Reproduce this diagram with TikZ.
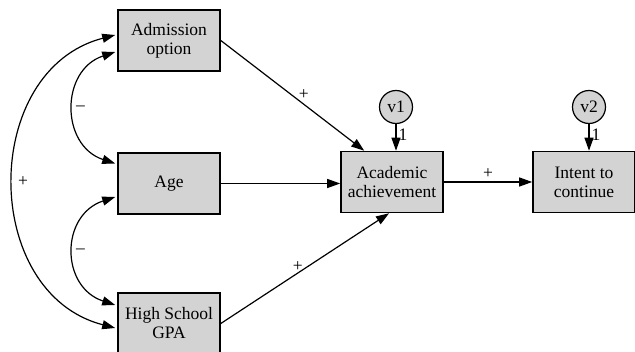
\documentclass[tikz,border=0pt]{standalone}
\usepackage{fontspec}
\setmainfont{Liberation Serif}
\usetikzlibrary{arrows.meta,calc}
\definecolor{boxgray}{RGB}{211,211,211}
\begin{document}
\begin{tikzpicture}[x=1pt,y=-1pt,
  font=\fontsize{17.5}{19}\selectfont,
  var/.style={draw=black,fill=boxgray,line width=1.6pt,minimum width=102pt,minimum height=61pt,inner sep=0pt,align=center},
  err/.style={draw=black,fill=boxgray,line width=1.2pt,circle,minimum size=33pt,inner sep=0pt},
  arr/.style={line width=1.2pt,-{Triangle[length=13pt,width=9pt]}},
  darr/.style={line width=1.2pt,{Triangle[length=13pt,width=9pt]}-{Triangle[length=13pt,width=9pt]}},
  lab/.style={inner sep=1.5pt}]
\useasboundingbox (0,0) rectangle (635,352);
\node[var] (adm) at (169,40.5) {Admission\\option};
\node[var] (age) at (169,183.5) {Age};
\node[var] (gpa) at (169,323.5) {High School\\GPA};
\node[var] (aca) at (392,182) {Academic\\achievement};
\node[var] (int) at (584,182) {Intent to\\continue};
\node[err] (v1) at (396,107) {v1};
\node[err] (v2) at (589,107) {v2};
% paths to academic achievement
\draw[arr] (adm.east) -- node[lab,pos=0.55,above right,xshift=-3pt] {+} ($(aca.north west)+(24,0)$);
\draw[arr] (age.east) -- (aca.west |- age.east);
\draw[arr] (gpa.east) -- node[lab,pos=0.5,above left,yshift=-5pt] {+} ($(aca.south)+(-3,0)$);
\draw[arr] (aca.east) -- node[lab,above,yshift=1pt] {+} (int.west);
% error terms
\draw[arr] (v1.south) -- node[lab,pos=0.4,right,inner sep=0pt,xshift=2pt] {1} (v1.south |- aca.north);
\draw[arr] (v2.south) -- node[lab,pos=0.4,right,inner sep=0pt,xshift=2pt] {1} (v2.south |- int.north);
% correlations
\draw[darr] ($(adm.west)+(-2,-5.5)$) .. controls +(-135,35) and +(-135,-35) .. node[lab,pos=0.5,right,xshift=2pt] {+} ($(gpa.west)+(-2,4.5)$);
\draw[darr] ($(adm.west)+(-2,11.5)$) .. controls +(-55,18) and +(-55,-18) .. node[lab,pos=0.5,right] {--} ($(age.west)+(-2,-20)$);
\draw[darr] ($(age.west)+(-2,13.5)$) .. controls +(-55,18) and +(-55,-18) .. node[lab,pos=0.5,right] {--} ($(gpa.west)+(-2,-18.5)$);
\end{tikzpicture}
\end{document}
